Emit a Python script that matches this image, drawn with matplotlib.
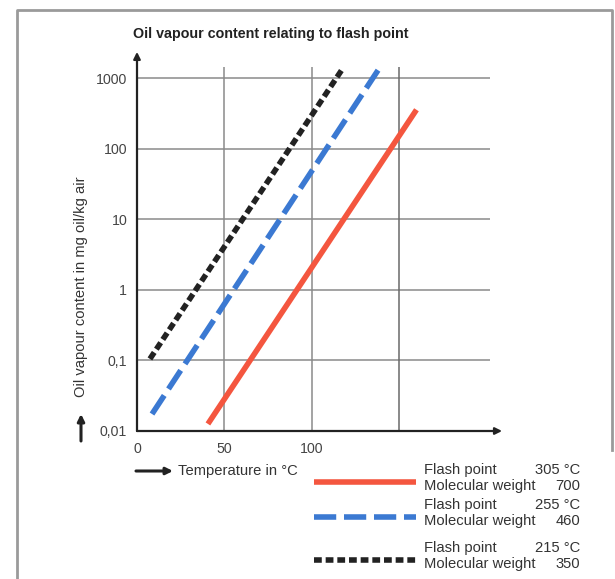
import matplotlib
matplotlib.use("Agg")
import matplotlib.pyplot as plt
import numpy as np

plt.rcParams['font.family'] = ['Liberation Sans', 'DejaVu Sans']

# data (temperature in degC, oil vapour in mg oil/kg air)
temp_305 = [40.6, 160.0]
vap_305 = [0.0126, 355.0]
temp_255 = [8.6, 138.0]
vap_255 = [0.0174, 1290.0]
temp_215 = [7.4, 118.0]
vap_215 = [0.105, 1390.0]

flash_points = ["305 °C", "255 °C", "215 °C"]
mol_weights = ["700", "460", "350"]

y_ticks = [0.01, 0.1, 1, 10, 100, 1000]
y_labels = ["0,01", "0,1", "1", "10", "100", "1000"]
x_ticks = [0, 50, 100]
x_grid = [50, 100, 150]

red = '#f4563f'
blue = '#3b79d2'
black = '#222222'
lw = 4.0
fs = 10.6

W, H = 615, 579
fig = plt.figure(figsize=(W/100, H/100), dpi=100)

# page overlay in pixel coordinates
bg = fig.add_axes([0, 0, 1, 1])
bg.set_xlim(0, W)
bg.set_ylim(H, 0)
bg.axis('off')
bg.plot([17, 17, 612, 612], [579, 10, 10, 450], color='#9a9a9a', lw=2)

ax = fig.add_axes([137/W, 1 - 431/H, (490-137)/W, (431-67)/H])
ax.set_yscale('log')
ax.set_xlim(0, 202.1)
ax.set_ylim(0.01, 10**3.156)
for s in ax.spines.values():
    s.set_visible(False)
ax.patch.set_alpha(0)

for yv in y_ticks[1:]:
    ax.plot([0, 202.1], [yv, yv], color='#8a8a8a', lw=1.1, zorder=1)
for xv in x_grid:
    ax.plot([xv, xv], [0.01, 10**3.156], color='#6a6a6a' if xv == 150 else '#8a8a8a', lw=1.1, zorder=1)

ax.plot(temp_305, vap_305, color=red, lw=lw, solid_capstyle='butt', zorder=3)
ax.plot(temp_255, vap_255, color=blue, lw=lw, dashes=(4.0, 1.4), dash_capstyle='butt', zorder=3)
ax.plot(temp_215, vap_215, color=black, lw=lw, dashes=(1.4, 0.7), dash_capstyle='butt', zorder=3)

# axes with arrows
ax.annotate('', xy=(0, 10**3.37), xytext=(0, 0.01), annotation_clip=False,
            arrowprops=dict(arrowstyle='-|>', lw=1.6, color='#222', mutation_scale=10,
                            shrinkA=0, shrinkB=0))
ax.annotate('', xy=(209, 0.01), xytext=(0, 0.01), annotation_clip=False,
            arrowprops=dict(arrowstyle='-|>', lw=1.6, color='#222', mutation_scale=10,
                            shrinkA=0, shrinkB=0))

ax.set_yticks(y_ticks)
ax.set_yticklabels(y_labels)
ax.minorticks_off()
ax.set_xticks(x_ticks)
ax.set_xticklabels([str(v) for v in x_ticks])
ax.tick_params(axis='both', length=0, labelsize=10.2, labelcolor='#444')
ax.tick_params(axis='y', pad=7)
ax.tick_params(axis='x', pad=8)

bg.text(271, 34, 'Oil vapour content relating to flash point', fontsize=10.3,
        fontweight='bold', color='#222', ha='center', va='center')

# y label with arrow
bg.text(81, 287, 'Oil vapour content in mg oil/kg air', rotation=90, fontsize=fs,
        color='#333', ha='center', va='center')
bg.annotate('', xy=(81, 414), xytext=(81, 441),
            arrowprops=dict(arrowstyle='-|>', lw=2.2, color='#222', mutation_scale=10,
                            shrinkA=0, shrinkB=0))

# x label with arrow
bg.annotate('', xy=(173, 471), xytext=(136, 471),
            arrowprops=dict(arrowstyle='-|>', lw=2.2, color='#222', mutation_scale=10,
                            shrinkA=0, shrinkB=0))
bg.text(178, 471, 'Temperature in °C', fontsize=fs, color='#333', ha='left', va='center')

# legend
leg_y = [482, 517, 560]
styles = [dict(color=red, lw=lw, solid_capstyle='butt'),
          dict(color=blue, lw=lw, dashes=(4.0, 1.4), dash_capstyle='butt'),
          dict(color=black, lw=lw, dashes=(1.4, 0.7), dash_capstyle='butt')]
for y, st, fp, mw in zip(leg_y, styles, flash_points, mol_weights):
    bg.plot([314, 416], [y, y], **st)
    bg.text(424, y - 12, 'Flash point', fontsize=fs, color='#333', ha='left', va='center')
    bg.text(580, y - 12, fp, fontsize=fs, color='#333', ha='right', va='center')
    bg.text(424, y + 4, 'Molecular weight', fontsize=fs, color='#333', ha='left', va='center')
    bg.text(580, y + 4, mw, fontsize=fs, color='#333', ha='right', va='center')

fig.savefig('out.png', dpi=100)
